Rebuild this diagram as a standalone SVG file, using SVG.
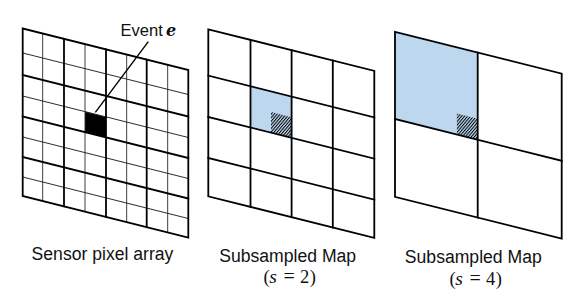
<svg xmlns="http://www.w3.org/2000/svg" width="581" height="303" viewBox="0 0 581 303">
  <style>
    .bg { fill: #ffffff; }
    .thick { stroke: #000; stroke-width: 1.8; fill: none; stroke-linecap: square; }
    .thin { stroke: #2a2a2a; stroke-width: 0.9; fill: none; }
    .cellblue { fill: #BDD7EE; stroke: none; }
    .hatch { fill: url(#hatchPat); stroke: none; }
    .label { font-family: "Liberation Sans", Arial, sans-serif; font-size: 17.6px; fill: #111; }
    .math { font-family: "Liberation Serif", "Times New Roman", serif; font-size: 18.5px; fill: #111; }
    .leader { stroke: #000; stroke-width: 1.4; fill: none; }
  </style>
  <defs>
    <pattern id="hatchPat" patternUnits="userSpaceOnUse" width="2.3" height="10" patternTransform="rotate(40)">
      <rect x="0" y="0" width="1.0" height="10" fill="#000"/>
    </pattern>
  </defs>
  <rect class="bg" x="0" y="0" width="581" height="303"/>

  <!-- Panel 1: sensor pixel array -->
  <g id="sensor-array">
    <g transform="translate(22.7,28.5) skewY(14.07)">
      <rect x="62.3" y="67.5" width="21" height="20.5" fill="#000"/>
      <line class="thin" x1="0" y1="24.5" x2="165.6" y2="24.5"/>
      <line class="thin" x1="0" y1="67.5" x2="165.6" y2="67.5"/>
      <line class="thin" x1="0" y1="108.5" x2="165.6" y2="108.5"/>
      <line class="thin" x1="0" y1="148.5" x2="165.6" y2="148.5"/>
      <line class="thin" x1="20" y1="0" x2="20" y2="167.5"/>
      <line class="thin" x1="62.3" y1="0" x2="62.3" y2="167.5" stroke="#888"/>
      <line class="thin" x1="104" y1="0" x2="104" y2="167.5" stroke="#888"/>
      <line class="thin" x1="145" y1="0" x2="145" y2="167.5"/>
      <line class="thick" x1="0" y1="46.5" x2="165.6" y2="46.5"/>
      <line class="thick" x1="0" y1="88" x2="165.6" y2="88"/>
      <line class="thick" x1="0" y1="128.5" x2="165.6" y2="128.5"/>
      <line class="thick" x1="41.3" y1="0" x2="41.3" y2="167.5"/>
      <line class="thick" x1="83.3" y1="0" x2="83.3" y2="167.5"/>
      <line class="thick" x1="124" y1="0" x2="124" y2="167.5"/>
      <rect class="thick" x="0" y="0" width="165.6" height="167.5"/>
    </g>
  </g>

  <!-- Panel 2: subsampled map s=2 -->
  <g id="map-s2">
    <g transform="translate(208.3,29.3) skewY(14.07)">
      <rect class="cellblue" x="42.2" y="46.4" width="41.1" height="41.3"/>
    </g>
    <polygon class="hatch" points="271,112 291.6,117.17 291.6,137.87 271,132.71"/>
    <g transform="translate(208.3,29.3) skewY(14.07)">
      <line class="thick" x1="0" y1="46.4" x2="166" y2="46.4"/>
      <line class="thick" x1="0" y1="87.7" x2="166" y2="87.7"/>
      <line class="thick" x1="0" y1="128.7" x2="166" y2="128.7"/>
      <line class="thick" x1="42.2" y1="0" x2="42.2" y2="167"/>
      <line class="thick" x1="83.3" y1="0" x2="83.3" y2="167"/>
      <line class="thick" x1="124.5" y1="0" x2="124.5" y2="167"/>
      <rect class="thick" x="0" y="0" width="166" height="167"/>
    </g>
  </g>

  <!-- Panel 3: subsampled map s=4 -->
  <g id="map-s4">
    <g transform="translate(395,31.8) skewY(14.07)">
      <rect class="cellblue" x="0" y="0" width="82.7" height="87.2"/>
    </g>
    <polygon class="hatch" points="456.9,113.51 477.7,118.72 477.7,139.72 456.9,134.51"/>
    <g transform="translate(395,31.8) skewY(14.07)">
      <line class="thick" x1="0" y1="87.2" x2="166.7" y2="87.2"/>
      <line class="thick" x1="82.7" y1="0" x2="82.7" y2="165"/>
      <rect class="thick" x="0" y="0" width="166.7" height="165"/>
    </g>
  </g>

  <!-- Event label -->
  <g id="event-label">
    <text x="120.6" y="36" font-family="Liberation Sans, Arial, sans-serif" font-size="16.5" fill="#111">Event</text>
    <text x="166" y="36" font-family="DejaVu Serif, serif" font-size="16" font-weight="bold" font-style="italic" fill="#111">e</text>
  </g>

  <!-- Captions -->
  <g id="caption-sensor">
    <text class="label" x="102.5" y="259.5" text-anchor="middle">Sensor pixel array</text>
  </g>
  <g id="caption-s2">
    <text class="label" x="287.7" y="261.5" text-anchor="middle">Subsampled Map</text>
    <text class="math" y="283"><tspan x="263.5">(</tspan><tspan x="269.3" font-style="italic" font-size="19.5">s</tspan><tspan x="283.5" font-size="20">=</tspan><tspan x="300">2</tspan><tspan x="309.8">)</tspan></text>
  </g>
  <g id="caption-s4">
    <text class="label" x="473.3" y="263.2" text-anchor="middle">Subsampled Map</text>
    <text class="math" y="284.5"><tspan x="449.5">(</tspan><tspan x="455.3" font-style="italic" font-size="19.5">s</tspan><tspan x="469.5" font-size="20">=</tspan><tspan x="486">4</tspan><tspan x="495.8">)</tspan></text>
  </g>

  <!-- Connectors -->
  <g id="connectors">
    <line class="leader" x1="148.3" y1="41.7" x2="95.3" y2="112.3"/>
  </g>
</svg>
